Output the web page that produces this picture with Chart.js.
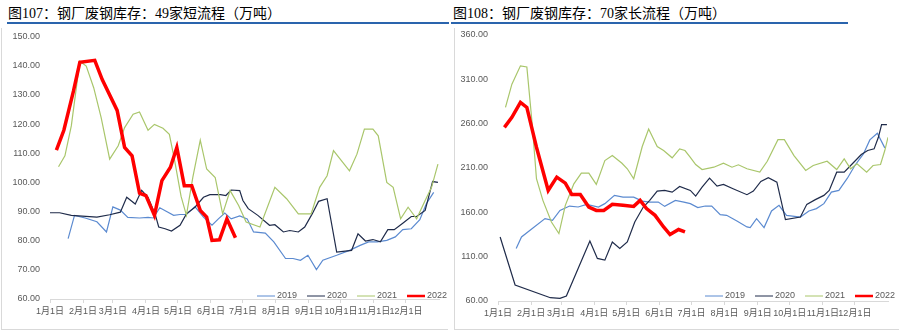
<!DOCTYPE html>
<html>
<head>
<meta charset="utf-8">
<script src="https://cdn.jsdelivr.net/npm/chart.js@4.4.1/dist/chart.umd.min.js"></script>
<style>
  body { margin: 0; background: #fff; }
  #page { position: relative; width: 900px; height: 330px; overflow: hidden; }
  .title { position: absolute; top: 2px; font-family: "Liberation Serif", "Noto Sans CJK SC", serif; font-size: 14px; color: #000; white-space: nowrap; }
  .rule { position: absolute; top: 22px; height: 2px; background: #2a64ad; }
  .panel { position: absolute; top: 28px; border-left: 1px solid #d9d9d9; border-bottom: 1px solid #d9d9d9; }
  canvas { position: absolute; top: 28px; }
</style>
</head>
<body>
<div id="page">
  <div class="title" style="left:8px">图107：钢厂废钢库存：49家短流程（万吨）</div>
  <div class="title" style="left:453px">图108：钢厂废钢库存：70家长流程（万吨）</div>
  <div class="rule" style="left:7px;width:442px"></div>
  <div class="rule" style="left:451px;width:397px"></div>
  <div class="panel" style="left:1px;width:446px;height:301px"></div>
  <div class="panel" style="left:454px;width:444px;height:301px"></div>
  <canvas id="short" width="450" height="302" style="left:0"></canvas>
  <canvas id="long" width="450" height="302" style="left:450px"></canvas>
</div>
<script>
// x = day of year, tick labels at month starts
var monthDays = [0,31,59,90,120,151,181,212,243,273,304,334];
var monthLabels = ['1月1日','2月1日','3月1日','4月1日','5月1日','6月1日','7月1日','8月1日','9月1日','10月1日','11月1日','12月1日'];
var years = ['2019','2020','2021','2022'];

// 49家短流程
var d19L = [17,23,33,44,53,59,66,73,84,92,97,103,109,116,122,128,136,144,152,158,164,170,178,185,191,202,210,221,228,235,242,250,256,269,281,291,299,307,316,324,331,339,347,353,360];
var v19L = [80.7,88.7,87.8,86.5,83,91.6,90.5,88,87.8,88,87.8,91.3,90.1,88.7,89,89,91.7,88.1,85.3,87.5,89.5,87.5,88.5,87.5,83,82.6,79.6,73.9,73.9,73.3,75,70.1,73.3,75,76.7,78.4,79.6,79.6,80.1,81.3,83.8,84.1,87.2,92.6,96.6];
var d20L = [0,9,20,44,56,66,72,80,86,92,99,102,108,114,122,128,136,144,150,160,165,170,178,181,186,195,206,211,219,225,233,239,246,252,260,269,283,289,296,303,310,317,323,331,339,344,352,359,364];
var v20L = [89.6,89.6,88.7,88.1,88.9,89.8,94.9,92.6,97.3,94.9,88.7,84.7,84.1,83.3,85.3,89.2,91.5,94.9,95.8,95.8,95.5,97.4,97.2,93.8,91,88.7,85.3,85.5,83,83.5,83,84.7,89.2,93.5,94.4,76.1,76.7,82.4,79.9,80.4,79.6,83.8,83.8,86,88.3,88.3,90.4,100.3,100];
var d21L = [8,14,20,28,34,41,48,56,64,70,78,84,92,98,106,112,117,123,128,134,141,147,155,162,169,177,184,197,211,222,233,245,253,260,266,281,288,295,303,308,316,322,329,336,344,352,358,364];
var v21L = [105.4,109.1,119.4,141.6,139.9,132.5,122.2,108,112.6,118.8,123.4,124.2,117.9,119.9,118.6,116.5,107.4,95.2,88.7,101.7,114.5,104.6,101.7,89.2,97.2,92.1,86.4,84.7,98.3,94.4,89.2,89.2,98.3,102.3,110.9,104,109.7,118.3,118.3,116,100,98.3,87.5,91.5,87.5,93.8,98.3,106.3];
var d22L = [6,13,22,28,42,49,63,70,77,84,90,98,105,113,119,126,133,141,147,152,159,166,174];
var v22L = [111.1,117.9,131.3,141.2,141.9,135.3,124.7,112,109.1,96.3,95.5,88.7,100.6,105.2,112,98.9,98.9,90.4,88.1,80.1,80.3,87.5,81];

// 70家长流程
var d19R = [17,22,30,44,51,58,67,75,83,94,100,109,117,127,135,142,150,156,166,174,180,187,194,200,208,214,224,233,236,242,249,256,263,270,283,291,298,305,312,319,327,334,342,348,355,362];
var v19R = [119.2,132.2,139.8,152.9,151,162.2,167.1,166,169,166,169.8,179.1,177.2,177.2,172.7,171.6,171.6,166.7,173.5,171.6,169.8,165.3,167.1,167.1,157.4,156.6,149.9,143.5,142.8,152.9,142.8,161.5,167.9,156.6,154.7,161.5,164.2,169.8,182.8,184.7,198.5,212.8,225.9,241.7,249.1,232.7];
var d20R = [2,16,49,58,64,75,86,93,100,107,114,121,128,136,142,149,156,163,170,180,185,191,198,205,211,220,233,239,246,253,261,269,283,289,297,305,310,317,324,333,340,346,352,356,359,364];
var v20R = [132.2,78,63.7,63,65.6,96.7,127.6,108,106.1,126.6,119.2,126.6,149.1,166,173.5,183.9,184.7,182.8,189.2,184.7,178.3,188.4,198.5,189.6,191.5,186.6,179.9,183.9,194.8,199,194,151.8,154.7,169,174.3,179.1,184.7,205.3,205.3,216.5,225.2,229.7,231.6,244.6,258.9,258.9];
var d21R = [7,13,21,27,32,36,42,50,57,63,71,78,85,92,100,107,116,121,127,135,141,149,155,163,170,175,180,185,191,202,211,219,225,233,245,252,262,268,277,288,295,308,317,324,330,336,345,351,358,362,365];
var v21R = [278.3,304.6,325.2,324,259.7,197.9,173.5,149.1,136.1,167.9,192.2,204.2,204.2,191.5,218.4,224,215.4,209.1,197.9,234.2,254,234.2,229.7,221.5,231.6,229.7,222.1,213.9,208.3,210.9,215.4,210.9,213.6,209.1,205.3,217.6,242,242,224,207.2,212.8,217.6,208.3,220.3,209.1,214.7,205.3,212.8,213.9,229.7,244.6];
var d22R = [6,13,21,27,36,47,55,63,69,77,85,92,99,107,117,127,133,139,147,155,161,169,175];
var v22R = [255.8,267.1,284,278.3,233.4,184.7,199.7,192.9,180.2,180.2,166,162.2,162.2,169,167.9,166.7,173.5,164.2,156.6,143.5,134.9,140.6,137.9];

var colors = ['#5b8ad0','#1f2b4a','#a9c66b','#ff0000'];
var widths = [1.2,1.2,1.2,3.5];
var tickFont = {family:'"Liberation Sans Narrow","Liberation Sans","Noto Sans CJK SC"', size:9};

function pts(d, v) {
  var out = [];
  for (var i = 0; i < d.length; i++) out.push({x: d[i], y: v[i]});
  return out;
}

var cornerLegend = {
  id: 'cornerLegend',
  afterDraw: function(chart, args, opts) {
    var ctx = chart.ctx;
    ctx.save();
    ctx.font = '9px ' + tickFont.family;
    ctx.textBaseline = 'middle';
    ctx.fillStyle = '#595959';
    chart.data.datasets.forEach(function(ds, i) {
      var x = opts.x + i * 50;
      ctx.strokeStyle = ds.borderColor;
      ctx.lineWidth = i == 3 ? 2.5 : 1;
      ctx.beginPath();
      ctx.moveTo(x, opts.y);
      ctx.lineTo(x + 18, opts.y);
      ctx.stroke();
      ctx.fillText(ds.label, x + 20, opts.y);
    });
    ctx.restore();
  }
};

function makeChart(id, series, yMin, yMax, yStep, pad, legendX) {
  var datasets = series.map(function(s, i) {
    return {
      label: years[i],
      data: s,
      borderColor: colors[i],
      backgroundColor: colors[i],
      borderWidth: widths[i],
      pointRadius: 0,
      tension: 0,
      order: 3 - i
    };
  });
  return new Chart(document.getElementById(id), {
    type: 'line',
    data: {datasets: datasets},
    plugins: [cornerLegend],
    options: {
      responsive: false,
      animation: false,
      devicePixelRatio: 1,
      layout: {padding: {left: 0, right: pad.right, top: pad.top, bottom: 0}},
      plugins: {
        legend: {display: false},
        tooltip: {enabled: false},
        cornerLegend: {x: legendX, y: 268}
      },
      scales: {
        x: {
          type: 'linear', min: 0, max: 365,
          afterBuildTicks: function(axis) {
            axis.ticks = monthDays.map(function(v) { return {value: v}; });
          },
          afterFit: function(axis) { axis.height = pad.xh; },
          ticks: {
            autoSkip: false, maxRotation: 0, padding: 3, color: '#595959', font: tickFont,
            callback: function(v) { return monthLabels[monthDays.indexOf(v)]; }
          },
          grid: {drawOnChartArea: false, tickLength: 4, color: '#d9d9d9'},
          border: {color: '#d9d9d9'}
        },
        y: {
          min: yMin, max: yMax,
          afterFit: function(axis) {
            axis.width = pad.yw;
            // tick padding is otherwise added to the top inset as well
            axis.paddingTop = 0;
            axis.paddingBottom = 0;
          },
          ticks: {
            stepSize: yStep, padding: 10, color: '#595959', font: tickFont,
            callback: function(v) { return v.toFixed(2); }
          },
          grid: {display: false, drawTicks: false},
          border: {display: false}
        }
      }
    }
  });
}

makeChart('short', [pts(d19L, v19L), pts(d20L, v20L), pts(d21L, v21L), pts(d22L, v22L)],
  60, 150, 10, {right: 11, top: 8.7, xh: 31, yw: 50}, 257);
makeChart('long', [pts(d19R, v19R), pts(d20R, v20R), pts(d21R, v21R), pts(d22R, v22R)],
  60, 360, 50, {right: 12, top: 7, xh: 29, yw: 48}, 255);
</script>
</body>
</html>
